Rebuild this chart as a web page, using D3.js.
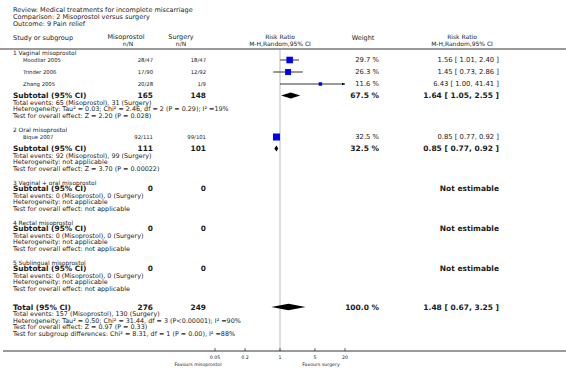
<!DOCTYPE html>
<html>
<head>
<meta charset="utf-8">
<script src="https://cdn.jsdelivr.net/npm/d3@7/dist/d3.min.js"></script>
<style>
  body { margin: 0; background: #fff; }
  text { font-family: "DejaVu Sans", Verdana, sans-serif; fill: #1a1a1a; }
</style>
</head>
<body>
<div id="forest"></div>
<script>
// ━━━━━━━━━━━━━━━━━━━━━━━━━━━━━━━━━━━━━━━━━━━━━━━━━━━━━━━━━━━━━━━━━━━━━━━━━━━━━━━━━━━
// Data
// ━━━━━━━━━━━━━━━━━━━━━━━━━━━━━━━━━━━━━━━━━━━━━━━━━━━━━━━━━━━━━━━━━━━━━━━━━━━━━━━━━━━

const studyNames  = ['Moodliar 2005', 'Trinder 2006', 'Zhang 2005', 'Bique 2007'];
const studyGroup  = [0, 0, 0, 1];
const misoEvents  = [28, 17, 20, 92];
const misoTotal   = [47, 90, 28, 111];
const surgEvents  = [18, 12, 1, 99];
const surgTotal   = [47, 92, 9, 101];
const studyWeight = [29.7, 26.3, 11.6, 32.5];
const studyRR     = [1.56, 1.45, 6.43, 0.85];
const studyLo     = [1.01, 0.73, 1.00, 0.77];
const studyHi     = [2.40, 2.86, 41.41, 0.92];

const groupNames  = ['1 Vaginal misoprostol', '2 Oral misoprostol', '3 Vaginal + oral misoprostol', '4 Rectal misoprostol', '5 Sublingual misoprostol'];
const groupMisoN  = [165, 111, 0, 0, 0];
const groupSurgN  = [148, 101, 0, 0, 0];
const groupMisoEv = [65, 92, 0, 0, 0];
const groupSurgEv = [31, 99, 0, 0, 0];
const groupWeight = [67.5, 32.5, null, null, null];
const groupRR     = [1.64, 0.85, null, null, null];
const groupLo     = [1.05, 0.77, null, null, null];
const groupHi     = [2.55, 0.92, null, null, null];
const groupHet    = [
  'Heterogeneity: Tau² = 0.03; Chi² = 2.46, df = 2 (P = 0.29); I² =19%',
  'Heterogeneity: not applicable',
  'Heterogeneity: not applicable',
  'Heterogeneity: not applicable',
  'Heterogeneity: not applicable'
];
const groupTest   = [
  'Test for overall effect: Z = 2.20 (P = 0.028)',
  'Test for overall effect: Z = 3.70 (P = 0.00022)',
  'Test for overall effect: not applicable',
  'Test for overall effect: not applicable',
  'Test for overall effect: not applicable'
];

const totalMisoN  = 276;
const totalSurgN  = 249;
const totalMisoEv = 157;
const totalSurgEv = 130;
const totalWeight = 100.0;
const totalRR     = [1.48, 0.67, 3.25];
const totalNotes  = [
  'Heterogeneity: Tau² = 0.50; Chi² = 31.44, df = 3 (P<0.00001); I² =90%',
  'Test for overall effect: Z = 0.97 (P = 0.33)',
  'Test for subgroup differences: Chi² = 8.31, df = 1 (P = 0.00), I² =88%'
];

const axisTicks = [0.05, 0.2, 1, 5, 20];
const headerLines = ['Review:  Medical treatments for incomplete miscarriage', 'Comparison:  2 Misoprostol versus surgery', 'Outcome:  9 Pain relief'];

// ━━━━━━━━━━━━━━━━━━━━━━━━━━━━━━━━━━━━━━━━━━━━━━━━━━━━━━━━━━━━━━━━━━━━━━━━━━━━━━━━━━━
// SVG setup
// ━━━━━━━━━━━━━━━━━━━━━━━━━━━━━━━━━━━━━━━━━━━━━━━━━━━━━━━━━━━━━━━━━━━━━━━━━━━━━━━━━━━

const width = 566, height = 368;
const svg = d3.select('#forest').append('svg')
  .attr('width', width).attr('height', height)
  .attr('viewBox', [0, 0, width, height]);

// font sizes fitted so that a sample string gets the width it has in the original
function fitSize(sample, target, bold) {
  const t = svg.append('text').attr('font-weight', bold ? 'bold' : null).text(sample);
  let size = 7;
  for (let k = 0; k < 4; k++) {
    t.attr('font-size', size);
    size = size * target / t.node().getComputedTextLength();
  }
  t.remove();
  return Math.round(size * 10) / 10;
}
const fs = {
  title:  fitSize(headerLines[0], 179),
  head:   fitSize('M-H,Random,95% CI', 62),
  group:  fitSize('1 Vaginal misoprostol', 63),
  row:    fitSize('Moodliar 2005', 38),
  value:  fitSize('1.56 [ 1.01, 2.40 ]', 61),
  sub:    fitSize('Subtotal (95% CI)', 73, true),
  subVal: fitSize('1.64 [ 1.05, 2.55 ]', 76, true),
  note:   fitSize(groupHet[0], 215),
  axis:   fitSize('Favours misoprostol', 47)
};

const x = d3.scaleLog().domain([0.05, 20]).range([215, 345]);
const boxSize = d3.scaleLinear().domain([0, 100]).range([1.5, 18.5]);

const col = { label: 13, study: 23, miso: 153, surg: 206, mihead: 126, suhead: 181, weight: 379, wHead: 363, rr: 499, rrHead: 462 };
const fmt = d3.format('.2f');
const ciText = (m, l, h) => `${fmt(m)} [ ${fmt(l)}, ${fmt(h)} ]`;

const grid   = svg.append('g').attr('id', 'grid');
const texts  = svg.append('g').attr('id', 'texts');
const marks  = svg.append('g').attr('id', 'marks');

function txt(xp, yp, s, size, opts = {}) {
  return texts.append('text')
    .attr('x', xp).attr('y', yp).attr('dy', '0.35em')
    .attr('font-size', size)
    .attr('font-weight', opts.bold ? 'bold' : null)
    .attr('text-anchor', opts.anchor || 'start')
    .text(s);
}

// Header ////////////////////////////////////////////////////////////////////

headerLines.forEach((s, i) => txt(col.label, 10 + i * 7, s, fs.title));
txt(col.label, 38, 'Study or subgroup', fs.title);
txt(col.mihead, 37, 'Misoprostol', fs.title, { anchor: 'middle' });
txt(col.mihead + 2, 44, 'n/N', fs.head, { anchor: 'middle' });
txt(col.suhead, 37, 'Surgery', fs.title, { anchor: 'middle' });
txt(col.suhead, 44, 'n/N', fs.head, { anchor: 'middle' });
txt(x(1), 37, 'Risk Ratio', fs.head, { anchor: 'middle' });
txt(x(1), 44, 'M-H,Random,95% CI', fs.head, { anchor: 'middle' });
txt(col.wHead, 38, 'Weight', fs.title, { anchor: 'middle' });
txt(col.rrHead, 37, 'Risk Ratio', fs.head, { anchor: 'middle' });
txt(col.rrHead, 44, 'M-H,Random,95% CI', fs.head, { anchor: 'middle' });

grid.append('line').attr('x1', 0).attr('x2', width).attr('y1', 49).attr('y2', 49)
  .attr('stroke', '#999').attr('stroke-width', 2);

// Rows //////////////////////////////////////////////////////////////////////

const axisY = 351;
grid.append('line').attr('x1', x(1)).attr('x2', x(1)).attr('y1', 50).attr('y2', axisY)
  .attr('stroke', '#ddd').attr('stroke-width', 2);

function diamond(yp, m, l, h, hh) {
  marks.append('path')
    .attr('d', `M${x(l)},${yp} L${x(m)},${yp - hh} L${x(h)},${yp} L${x(m)},${yp + hh} Z`)
    .attr('fill', '#000');
}

function subtotalBlock(yp, label, mN, sN, mEv, sEv, notes) {
  txt(col.label, yp, label, fs.sub, { bold: true });
  txt(col.miso, yp, mN, fs.sub, { bold: true, anchor: 'end' });
  txt(col.surg, yp, sN, fs.sub, { bold: true, anchor: 'end' });
  const lines = [`Total events: ${mEv} (Misoprostol), ${sEv} (Surgery)`].concat(notes);
  lines.forEach((s, i) => txt(col.label, yp + 7 + i * 6.5, s, fs.note));
  return yp + 7 + (lines.length - 1) * 6.5;
}

let cy = 52.5;
groupNames.forEach((g, gi) => {
  txt(col.label, cy, g, fs.group);
  const idx = studyNames.map((_, i) => i).filter(i => studyGroup[i] === gi);
  const sy = cy + (idx.length ? 7.5 : 6);
  idx.forEach((i, k) => {
    const yy = sy + k * 12;
    txt(col.study, yy, studyNames[i], fs.row);
    txt(col.miso, yy, `${misoEvents[i]}/${misoTotal[i]}`, fs.row, { anchor: 'end' });
    txt(col.surg, yy, `${surgEvents[i]}/${surgTotal[i]}`, fs.row, { anchor: 'end' });
    txt(col.weight, yy, `${studyWeight[i].toFixed(1)} %`, fs.value, { anchor: 'end' });
    txt(col.rr, yy, ciText(studyRR[i], studyLo[i], studyHi[i]), fs.value, { anchor: 'end' });
    const [d0, d1] = x.domain();
    const lo = Math.max(studyLo[i], d0), hi = Math.min(studyHi[i], d1);
    marks.append('line').attr('x1', x(lo)).attr('x2', x(hi)).attr('y1', yy).attr('y2', yy)
      .attr('stroke', '#000').attr('stroke-width', 0.8);
    if (studyHi[i] > d1) {
      marks.append('path')
        .attr('d', `M${x(d1)},${yy} l-3,-1.3 l0,2.6 Z`).attr('fill', '#000');
    }
    const s = boxSize(studyWeight[i]);
    marks.append('rect').attr('x', x(studyRR[i]) - s / 2).attr('y', yy - s / 2)
      .attr('width', s).attr('height', s).attr('fill', '#0000ff');
  });
  const subY = idx.length ? sy + idx.length * 12 - 0.5 : sy;
  if (groupRR[gi] != null) {
    txt(col.weight, subY, `${groupWeight[gi].toFixed(1)} %`, fs.subVal, { bold: true, anchor: 'end' });
    txt(col.rr, subY, ciText(groupRR[gi], groupLo[gi], groupHi[gi]), fs.subVal, { bold: true, anchor: 'end' });
    diamond(subY, groupRR[gi], groupLo[gi], groupHi[gi], 3);
  } else {
    txt(col.rr, subY, 'Not estimable', fs.subVal, { bold: true, anchor: 'end' });
  }
  const last = subtotalBlock(subY, 'Subtotal (95% CI)', groupMisoN[gi], groupSurgN[gi],
    groupMisoEv[gi], groupSurgEv[gi], [groupHet[gi], groupTest[gi]]);
  cy = last + 14;
});

// Total /////////////////////////////////////////////////////////////////////

const totY = 307;
txt(col.weight, totY, `${totalWeight.toFixed(1)} %`, fs.subVal, { bold: true, anchor: 'end' });
txt(col.rr, totY, ciText(...totalRR), fs.subVal, { bold: true, anchor: 'end' });
diamond(totY, totalRR[0], totalRR[1], totalRR[2], 3.3);
subtotalBlock(totY, 'Total (95% CI)', totalMisoN, totalSurgN, totalMisoEv, totalSurgEv, totalNotes);

// Axis //////////////////////////////////////////////////////////////////////

grid.append('line').attr('x1', 3).attr('x2', width).attr('y1', axisY).attr('y2', axisY)
  .attr('stroke', '#000').attr('stroke-width', 0.8);
const ax = svg.append('g').attr('transform', `translate(0,${axisY})`);
ax.selectAll('line').data(axisTicks).join('line')
  .attr('x1', d => x(d)).attr('x2', d => x(d)).attr('y1', -3).attr('y2', 0)
  .attr('stroke', '#000').attr('stroke-width', 0.6);
ax.selectAll('text').data(axisTicks).join('text')
  .attr('x', d => x(d)).attr('y', 6).attr('dy', '0.35em')
  .attr('text-anchor', 'middle').attr('font-size', fs.axis)
  .text(d => d);
txt(198, 364, 'Favours misoprostol', fs.axis, { anchor: 'middle' });
txt(321, 364, 'Favours surgery', fs.axis, { anchor: 'middle' });
</script>
</body>
</html>
